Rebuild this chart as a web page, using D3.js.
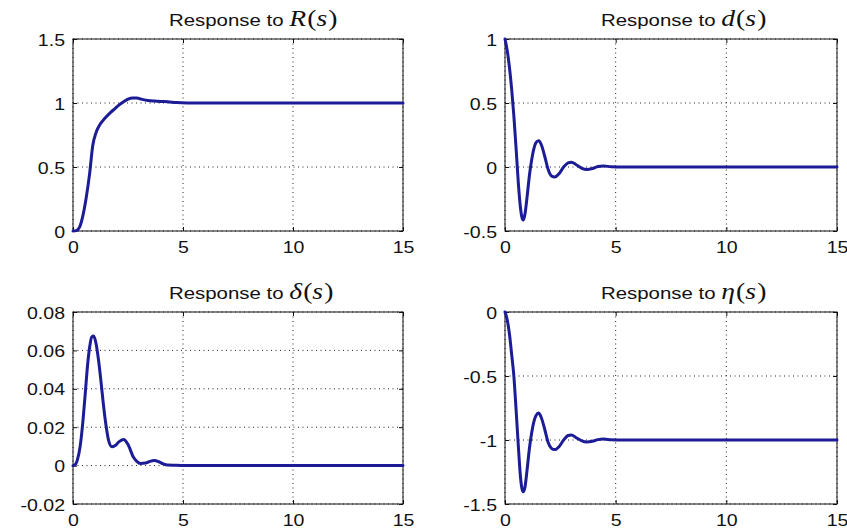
<!DOCTYPE html>
<html>
<head>
<meta charset="utf-8">
<script src="https://cdnjs.cloudflare.com/ajax/libs/d3/7.8.5/d3.min.js"></script>
<style>
  body { margin: 0; background: #fff; }
  svg { display: block; }
</style>
</head>
<body>
<svg id="fig" width="847" height="531"></svg>
<script>
// Shared time axis ticks (seconds)
const xTicks = [0, 5, 10, 15];

// Response to R(s)
const timeR = [0, 0.15, 0.3, 0.45, 0.6, 0.75, 0.9, 1.05, 1.2, 1.35, 1.5, 1.7, 1.9, 2.1, 2.3, 2.5, 2.7, 2.9, 3.1, 3.4, 3.7, 4.0, 4.3, 4.7, 5.2, 15];
const respR = [0, 0.003, 0.03, 0.12, 0.26, 0.44, 0.67, 0.77, 0.825, 0.86, 0.89, 0.925, 0.955, 0.985, 1.01, 1.03, 1.04, 1.04, 1.03, 1.02, 1.015, 1.012, 1.01, 1.003, 1.0, 1.0];
const yTicksR = [0, 0.5, 1, 1.5];

// Response to d(s)
const timeD = [0, 0.1, 0.2, 0.3, 0.4, 0.5, 0.6, 0.7, 0.76, 0.82, 0.9, 1.0, 1.1, 1.2, 1.3, 1.4, 1.52, 1.65, 1.8, 1.95, 2.1, 2.25, 2.45, 2.65, 2.85, 3.0, 3.2, 3.45, 3.7, 3.95, 4.2, 4.45, 4.8, 5.3, 15];
const respD = [1, 0.91, 0.78, 0.61, 0.40, 0.15, -0.12, -0.32, -0.39, -0.415, -0.37, -0.23, -0.07, 0.05, 0.14, 0.19, 0.205, 0.17, 0.08, -0.02, -0.07, -0.078, -0.05, 0.0, 0.033, 0.038, 0.02, -0.008, -0.02, -0.012, 0.004, 0.008, 0.002, 0, 0];
const yTicksD = [-0.5, 0, 0.5, 1];

// Response to δ(s)
const timeDelta = [0, 0.1, 0.2, 0.33, 0.45, 0.56, 0.66, 0.76, 0.85, 0.94, 1.04, 1.16, 1.28, 1.39, 1.5, 1.62, 1.77, 1.92, 2.1, 2.3, 2.5, 2.75, 2.9, 3.06, 3.3, 3.5, 3.7, 3.9, 4.1, 4.3, 4.7, 5.3, 15];
const respDelta = [0, 0.0005, 0.003, 0.0104, 0.023, 0.038, 0.052, 0.062, 0.067, 0.0675, 0.064, 0.055, 0.043, 0.031, 0.021, 0.013, 0.0098, 0.0105, 0.0125, 0.0136, 0.011, 0.0043, 0.0022, 0.0011, 0.0013, 0.0022, 0.0026, 0.002, 0.0009, 0.0003, 0.0002, 0, 0];
const yTicksDelta = [-0.02, 0, 0.02, 0.04, 0.06, 0.08];

// Response to η(s)
const timeEta = [0, 0.1, 0.2, 0.3, 0.4, 0.5, 0.6, 0.7, 0.76, 0.82, 0.9, 1.0, 1.1, 1.2, 1.3, 1.4, 1.52, 1.65, 1.8, 1.95, 2.1, 2.25, 2.45, 2.65, 2.85, 3.0, 3.2, 3.45, 3.7, 3.95, 4.2, 4.45, 4.8, 5.3, 15];
const respEta = [0, -0.06, -0.17, -0.33, -0.5, -0.76, -1.04, -1.29, -1.375, -1.405, -1.37, -1.23, -1.07, -0.95, -0.86, -0.81, -0.79, -0.83, -0.92, -1.02, -1.065, -1.075, -1.05, -1.0, -0.965, -0.96, -0.98, -1.005, -1.016, -1.01, -0.997, -0.993, -0.998, -1, -1];
const yTicksEta = [-1.5, -1, -0.5, 0];

const panels = [
  { sym: "R", time: timeR, resp: respR, yTicks: yTicksR, box: [73, 39, 403, 231] },
  { sym: "d", time: timeD, resp: respD, yTicks: yTicksD, box: [505, 39, 837, 231] },
  { sym: "δ", time: timeDelta, resp: respDelta, yTicks: yTicksDelta, box: [73, 312, 403, 504] },
  { sym: "η", time: timeEta, resp: respEta, yTicks: yTicksEta, box: [505, 312, 837, 504] }
];

const svg = d3.select("#fig");
const LINE = "#1c1c96";
const SANS = "'Liberation Sans', Arial, sans-serif";
const SERIF = "'Liberation Serif', 'Times New Roman', serif";
const STRETCH = 1.15;

panels.forEach(p => {
  const [x0, y0, x1, y1] = p.box;
  const yExt = d3.extent(p.yTicks);
  const x = d3.scaleLinear().domain([0, 15]).range([x0, x1]);
  const y = d3.scaleLinear().domain(yExt).range([y1, y0]);
  const g = svg.append("g");

  // dotted grid
  g.append("g").selectAll("line").data(xTicks).join("line")
    .attr("x1", d => x(d)).attr("x2", d => x(d))
    .attr("y1", y0).attr("y2", y1)
    .attr("stroke", "#222").attr("stroke-width", 1).attr("stroke-dasharray", "1,3.5");
  g.append("g").selectAll("line").data(p.yTicks).join("line")
    .attr("x1", x0).attr("x2", x1)
    .attr("y1", d => y(d)).attr("y2", d => y(d))
    .attr("stroke", "#222").attr("stroke-width", 1).attr("stroke-dasharray", "1,3.5");

  // axes with inward ticks
  const fmt = d => String(d);
  const bottom = g.append("g").attr("transform", `translate(0,${y1})`)
    .call(d3.axisBottom(x).tickValues(xTicks).tickSize(-4).tickPadding(6).tickFormat(fmt));
  const left = g.append("g").attr("transform", `translate(${x0},0)`)
    .call(d3.axisLeft(y).tickValues(p.yTicks).tickSize(-4).tickPadding(7).tickFormat(fmt));
  g.append("g").attr("transform", `translate(0,${y0})`)
    .call(d3.axisTop(x).tickValues(xTicks).tickSize(-4).tickFormat(""));
  g.append("g").attr("transform", `translate(${x1},0)`)
    .call(d3.axisRight(y).tickValues(p.yTicks).tickSize(-4).tickFormat(""));
  g.selectAll(".domain").remove();
  g.selectAll(".tick line").attr("stroke", "#111");

  bottom.selectAll("text")
    .attr("font-family", SANS).attr("font-size", 17).attr("fill", "#111")
    .attr("y", 6).attr("dy", "0.95em")
    .attr("transform", `scale(${STRETCH},1)`);
  left.selectAll("text")
    .attr("font-family", SANS).attr("font-size", 17).attr("fill", "#111")
    .attr("x", -8 / STRETCH).attr("dy", "0.36em")
    .attr("transform", `scale(${STRETCH},1)`);
  g.selectAll(".tick text").filter(function(){ return this.textContent === ""; }).remove();

  // axes box
  g.append("rect")
    .attr("x", x0).attr("y", y0).attr("width", x1 - x0).attr("height", y1 - y0)
    .attr("fill", "none").attr("stroke", "#111").attr("stroke-width", 1);

  // response curve
  const pts = p.time.map((t, i) => [t, p.resp[i]]);
  g.append("path").datum(pts)
    .attr("fill", "none").attr("stroke", LINE).attr("stroke-width", 3)
    .attr("stroke-linejoin", "round").attr("stroke-linecap", "round")
    .attr("d", d3.line().x(d => x(d[0])).y(d => y(d[1])).curve(d3.curveMonotoneX));

  // title: "Response to" + symbol(s)
  const title = g.append("text")
    .attr("transform", `translate(${x0 + 96},${y0 - 13.5}) scale(1.2,1)`)
    .attr("fill", "#111");
  title.append("tspan").attr("font-family", SANS).attr("font-size", 17).text("Response to ");
  title.append("tspan").attr("font-family", SERIF).attr("font-size", 23).attr("font-style", "italic").text(p.sym);
  title.append("tspan").attr("font-family", SERIF).attr("font-size", 23).attr("dx", 1).text("(");
  title.append("tspan").attr("font-family", SERIF).attr("font-size", 23).attr("font-style", "italic").text("s");
  title.append("tspan").attr("font-family", SERIF).attr("font-size", 23).attr("dx", 1).text(")");
});
</script>
</body>
</html>
